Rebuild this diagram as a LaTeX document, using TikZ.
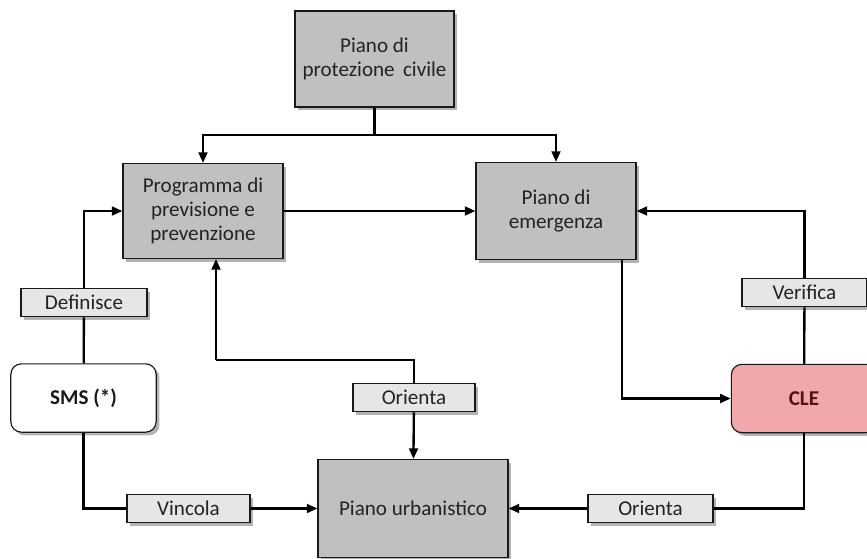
\documentclass[tikz,border=0pt]{standalone}
\usepackage{fontspec}
\setmainfont{Carlito}
\usetikzlibrary{arrows.meta,shadows}

\definecolor{boxgray}{RGB}{192,192,192}
\definecolor{tagfill}{RGB}{230,230,230}
\definecolor{clepink}{RGB}{242,168,171}
\definecolor{cletext}{RGB}{80,20,20}
\definecolor{txt}{RGB}{35,35,35}

\tikzset{
  shade/.style={drop shadow={shadow xshift=2.8pt,shadow yshift=-2.8pt,fill=black!50,opacity=.6}},
  bigbox/.style={rectangle,draw=black!90,line width=1pt,fill=boxgray,shade,align=center,
    text=txt,font=\fontsize{18}{20.5}\selectfont},
  roundbox/.style={rectangle,rounded corners=9pt,draw=black!90,line width=1pt,shade,
    font=\fontsize{18}{20}\selectfont\bfseries},
  tag/.style={rectangle,draw=black!90,line width=1pt,fill=tagfill,shade,text=txt,
    font=\fontsize{18}{20}\selectfont},
  link/.style={line width=2pt,black},
  flow/.style={link,-{Triangle[length=9pt,width=7.5pt]}}
}

\begin{document}
\begin{tikzpicture}[x=0.03cm,y=-0.03cm]

        \clip (0,0) rectangle (867,558);

        \begin{scope}[every node/.style={bigbox}]
          \node[minimum width=4.77cm,minimum height=2.88cm] (protez) at (374.5,59)  {Piano di\\protezione\, civile};
          \node[minimum width=4.8cm, minimum height=2.85cm] (prog)   at (203,211)   {Programma di\\previsione e\\prevenzione};
          \node[minimum width=4.8cm, minimum height=2.91cm] (emerg)  at (556,211)   {Piano di\\emergenza};
          \node[minimum width=5.7cm, minimum height=2.94cm] (urban)  at (413,508.5) {Piano urbanistico};
        \end{scope}

        \begin{scope}[every node/.style={roundbox,minimum width=4.36cm,minimum height=2.05cm}]
          \node[fill=white,text=black!90]      (sms) at (83.5,398)  {SMS (*)};
          \node[fill=clepink,text=cletext]     (cle) at (804,398.5) {CLE};
        \end{scope}

        \begin{scope}[every node/.style={tag,minimum height=.85cm}]
          \node[minimum width=3.78cm] (defin)   at (84,302.5)    {Definisce};
          \node[minimum width=3.69cm] (vinc)    at (188.5,508.5) {Vincola};
          \node[minimum width=3.66cm] (ormid)   at (414,397.5)   {Orienta};
          \node[minimum width=3.75cm] (verif)   at (804.5,292.5) {Verifica};
          \node[minimum width=3.75cm] (orright) at (650.5,508.5) {Orienta};
        \end{scope}

        \coordinate (split) at (374.5,135);
        \coordinate (knee)  at (216,360);
        \coordinate (emout) at (622,260);

        \draw[link] (protez) -- (split);
        \draw[flow] (split) -| (prog);
        \draw[flow] (split) -| (emerg);
        \draw[flow] (prog) -- (emerg);

        \draw[link] (sms) -- (defin);
        \draw[flow] (defin) |- (prog);
        \draw[link] (sms) |- (vinc);
        \draw[flow] (vinc) -- (urban);

        \draw[flow] (ormid) -- (urban);
        \draw[link] (ormid) |- (knee);
        \draw[flow] (knee) -- (knee |- prog.south);

        \draw[flow] (emout) |- (cle);
        \draw[link] (cle) -- (verif);
        \draw[flow] (verif) |- (emerg);
        \draw[link] (cle) |- (orright);
        \draw[flow] (orright) -- (urban);

      \end{tikzpicture}
\end{document}
